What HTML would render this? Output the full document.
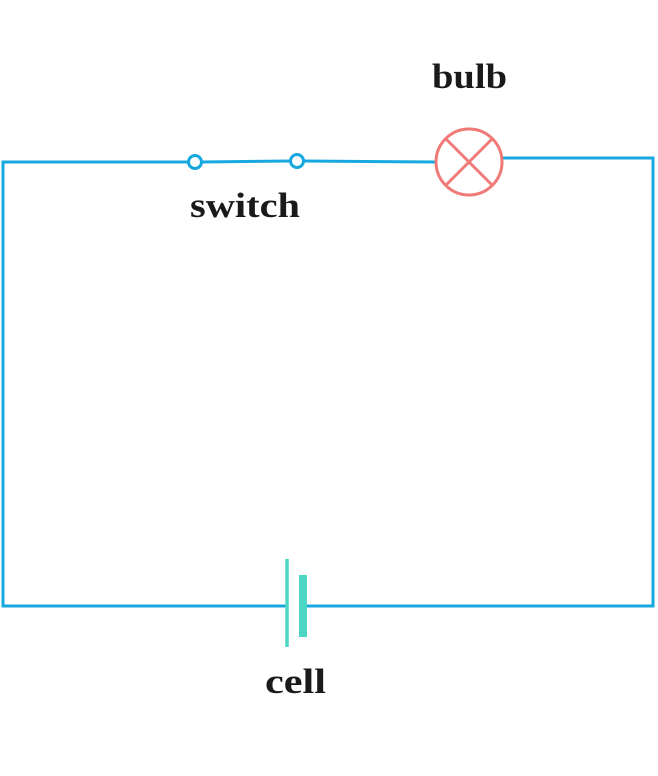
<!DOCTYPE html>
<html><head><style>body{margin:0;background:#fff}svg{display:block}</style></head><body>
<svg width="658" height="776" viewBox="0 0 658 776" xmlns="http://www.w3.org/2000/svg">
<g fill="none" stroke="#18a8e0" stroke-width="3">
<polyline points="189,162 3,162 3,606 286,606"/>
<line x1="201" y1="162" x2="291" y2="161"/>
<line x1="303" y1="161" x2="436" y2="162"/>
<polyline points="503,158 653,158 653,606 306,606"/>
<circle cx="195" cy="162" r="6.5"/>
<circle cx="297" cy="161" r="6.5"/>
</g>
<g fill="none" stroke="#f07a78" stroke-width="3">
<circle cx="469" cy="162" r="33"/>
<line x1="446" y1="139" x2="492" y2="185"/>
<line x1="492" y1="139" x2="446" y2="185"/>
</g>
<line x1="287" y1="559" x2="287" y2="647" stroke="#4ed6c5" stroke-width="3.5"/>
<rect x="299" y="575" width="8" height="62" fill="#4ed6c5"/>
<g font-family="Liberation Serif, serif" font-weight="bold" font-size="35" fill="#1a1a1a">
<text x="432" y="88" textLength="75" lengthAdjust="spacingAndGlyphs">bulb</text>
<text x="190" y="217" textLength="110" lengthAdjust="spacingAndGlyphs">switch</text>
<text x="265" y="693" textLength="61" lengthAdjust="spacingAndGlyphs">cell</text>
</g>
</svg>
</body></html>
